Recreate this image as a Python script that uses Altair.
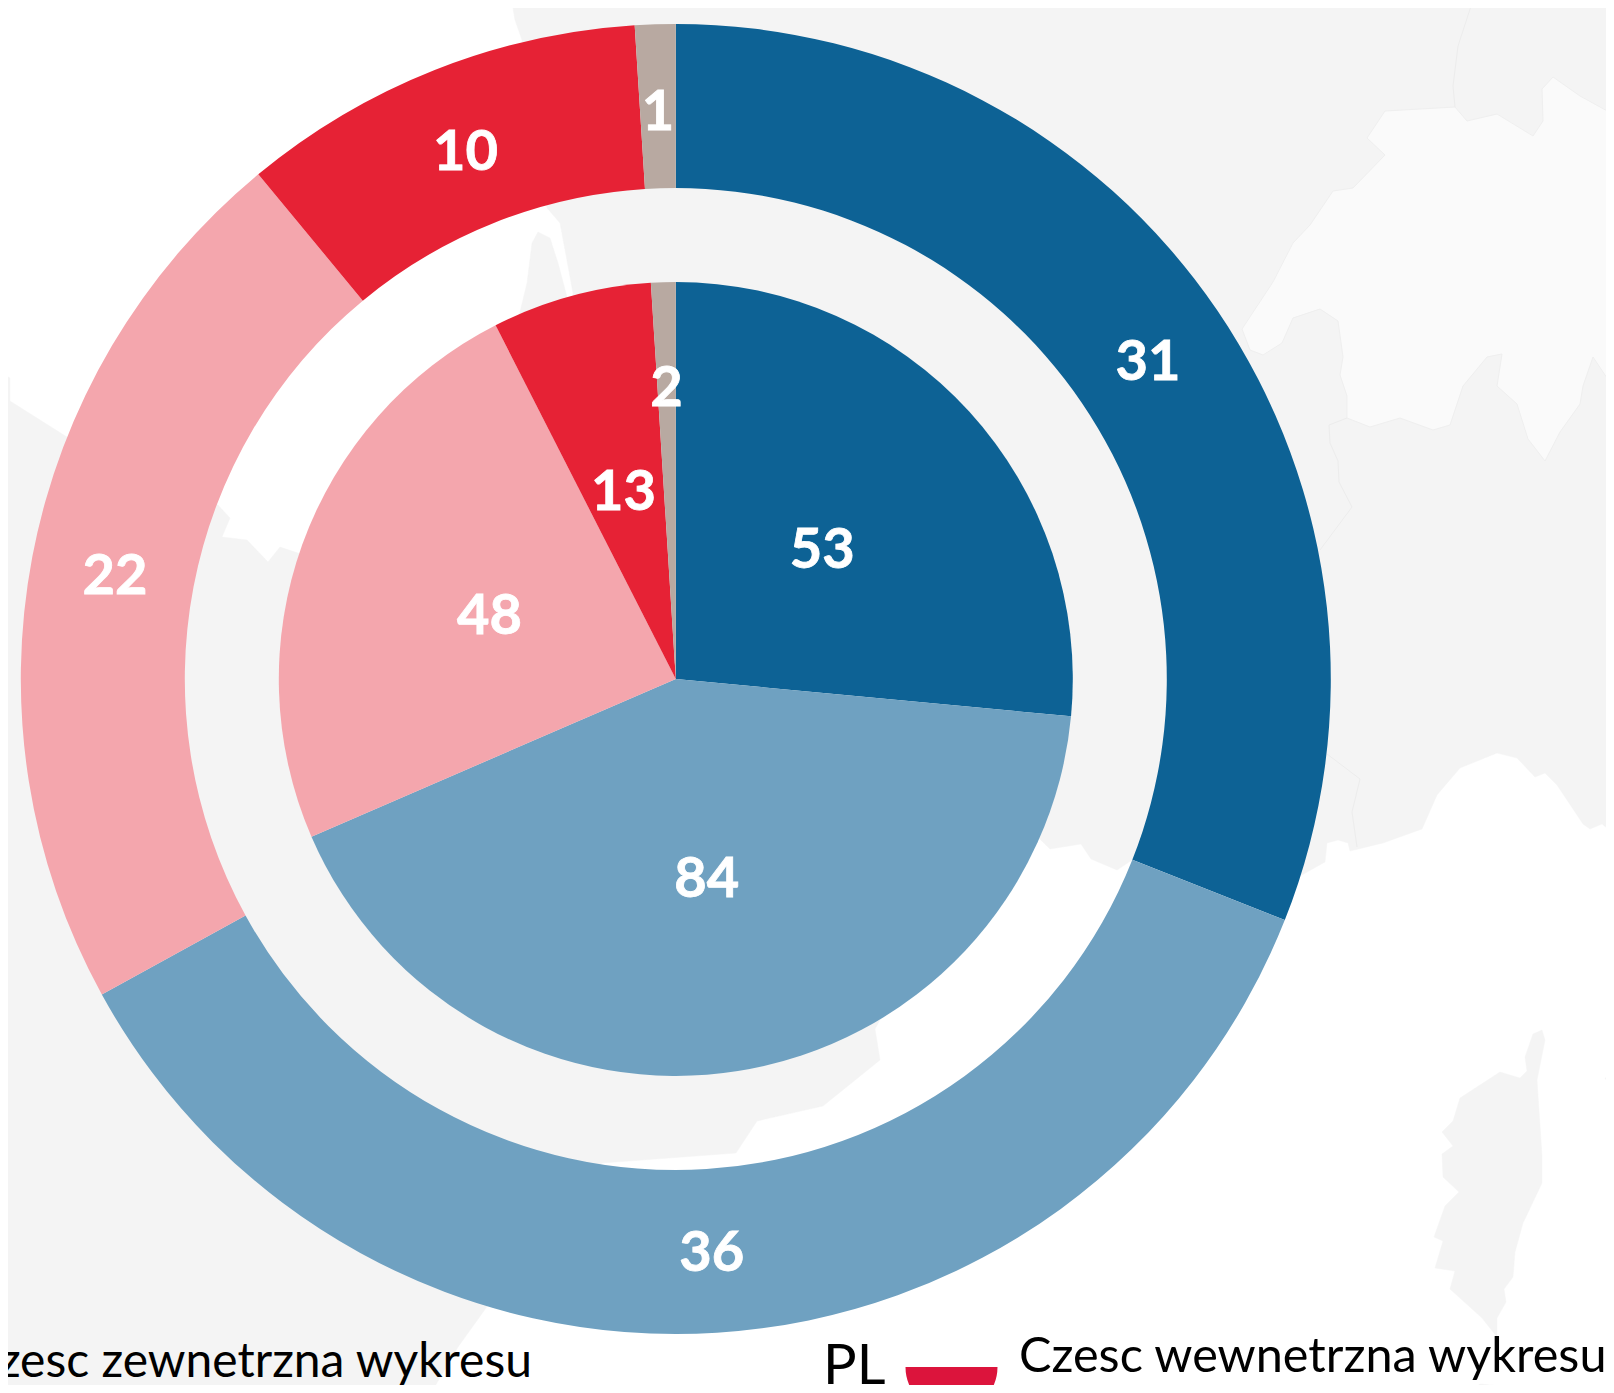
import altair as alt
import pandas as pd

# values of the two rings
categories = ["Grupa A", "Grupa B", "Grupa C", "Grupa D", "Grupa E"]
outer_values = [31, 36, 22, 10, 1]
inner_values = [53, 84, 48, 13, 2]
palette = ["#0d6295", "#6fa1c1", "#f4a6ad", "#e62235", "#b8a9a1"]

# background map outlines (page pixels)
land_main = [(510,-10),(515,20),(522,40),(547,208),(560,223),(573,293),(572,340),(564,340),(567,297),(558,263),(550,238),(538,232),(532,243),(527,283),(520,312),(510,350),(320,560),(298,553),(280,547),(268,562),(247,540),(222,537),(230,518),(218,505),(67,437),(10,401),(10,378),(0,372),(-10,372),(-10,1400),(427,1400),(458,1347),(486,1308),(602,1163),(736,1153),(757,1121),(823,1106),(854,1081),(880,1060),(875,1029),(1000,800),(1050,849),(1081,844),(1091,859),(1117,870),(1132,860),(1300,876),(1325,862),(1327,843),(1338,840),(1348,843),(1350,851),(1383,843),(1422,829),(1437,795),(1460,768),(1497,753),(1517,758),(1535,777),(1545,773),(1557,785),(1583,824),(1590,829),(1602,824),(1613,833),(1620,833),(1620,-10)]
corsica = [(1542,1030),(1545,1040),(1537,1080),(1542,1156),(1542,1183),(1523,1223),(1515,1252),(1513,1277),(1504,1289),(1506,1302),(1497,1318),(1497,1337),(1482,1318),(1450,1289),(1455,1271),(1435,1268),(1443,1241),(1434,1237),(1445,1206),(1459,1192),(1443,1177),(1442,1154),(1453,1146),(1442,1132),(1453,1121),(1460,1098),(1500,1072),(1520,1078),(1527,1071),(1525,1057),(1533,1034)]
islet = [(1605,1078),(1613,1092),(1620,1095),(1620,1076)]
sardinia = [(1462,1400),(1480,1384),(1500,1386),(1516,1400)]
swiss = [(1385,111),(1455,107),(1467,121),(1497,114),(1533,136),(1543,121),(1542,89),(1553,77),(1580,96),(1620,118),(1620,387),(1613,387),(1593,357),(1583,386),(1580,404),(1560,432),(1545,461),(1528,439),(1517,404),(1497,386),(1502,354),(1487,357),(1463,386),(1450,425),(1433,430),(1400,418),(1370,427),(1347,418),(1347,396),(1340,375),(1343,357),(1338,321),(1320,309),(1293,318),(1282,343),(1263,355),(1250,350),(1242,329),(1273,282),(1293,243),(1310,225),(1333,191),(1353,188),(1385,155),(1367,138)]
border_lines = [
    [(1455,107),(1453,86),(1458,46),(1473,0)],
    [(1347,418),(1329,425),(1330,443),(1338,461),(1339,482),(1352,507),(1320,550)],
    [(1327,754),(1360,779),(1352,812),(1357,847)],
]

PAGE = 8
W, H = 1598, 1377
CX, CY = 675.8 - PAGE, 679 - PAGE


def polygon(points):
    ring = [[x, y] for x, y in points]
    ring.append(ring[0])
    return {"type": "Feature", "properties": {}, "geometry": {"type": "Polygon", "coordinates": [ring]}}


def polyline(points):
    return {"type": "Feature", "properties": {}, "geometry": {"type": "LineString", "coordinates": [list(p) for p in points]}}


projection = dict(type="identity", scale=1, translate=[-PAGE, -PAGE])

land = alt.Chart(alt.Data(values=[polygon(land_main), polygon(corsica), polygon(islet), polygon(sardinia)])).mark_geoshape(
    fill="#f4f4f4", stroke="#f4f4f4", strokeWidth=0.5).project(**projection)
swiss_layer = alt.Chart(alt.Data(values=[polygon(swiss)])).mark_geoshape(
    fill="#fafafa", stroke="#efefef", strokeWidth=1).project(**projection)
border_layer = alt.Chart(alt.Data(values=[polyline(l) for l in border_lines])).mark_geoshape(
    filled=False, stroke="#ececec", strokeWidth=1).project(**projection)

frame = pd.DataFrame({
    "kategoria": categories,
    "idx": list(range(len(categories))),
    "outer": outer_values,
    "inner": inner_values,
})
colour = alt.Color("kategoria:N", scale=alt.Scale(domain=categories, range=palette), legend=None)
pos = {"x": alt.value(CX), "y": alt.value(CY)}
order = alt.Order("idx:O")


def theta(field, total):
    return alt.Theta(f"{field}:Q", stack=True, scale=alt.Scale(domain=[0, total], range=[0, 6.283185307179586]))


FONT = "Lato"
NUM = dict(color="white", font=FONT, fontWeight="bold", fontSize=56, align="center", baseline="middle",
           dy=5, stroke="white", strokeWidth=0.8)

outer_arc = alt.Chart(frame).mark_arc(outerRadius=655, innerRadius=491).encode(
    theta=theta("outer", 100), color=colour, order=order, **pos)
outer_text = alt.Chart(frame).mark_text(radius=571, **NUM).encode(
    theta=theta("outer", 100), text="outer:Q", order=order, **pos)
inner_arc = alt.Chart(frame).mark_arc(outerRadius=397, innerRadius=0).encode(
    theta=theta("inner", 200), color=colour, order=order, **pos)
inner_text = alt.Chart(frame).mark_text(radius=198, **NUM).encode(
    theta=theta("inner", 200), text=alt.condition("datum.inner == 2", alt.value(""), "inner:Q"), order=order, **pos)
small_text = alt.Chart(frame).mark_text(radius=295, **NUM).encode(
    theta=theta("inner", 200), text=alt.condition("datum.inner == 2", "inner:Q", alt.value("")), order=order, **pos)

# bottom captions and flag
caption_left = alt.Chart(alt.Data(values=[{"t": "Czesc zewnetrzna wykresu"}])).mark_text(
    font=FONT, fontSize=48, color="black", align="right", baseline="alphabetic").encode(
    text="t:N", x=alt.value(532 - PAGE), y=alt.value(1377 - PAGE))
caption_right = alt.Chart(alt.Data(values=[{"t": "Czesc wewnetrzna wykresu"}])).mark_text(
    font=FONT, fontSize=48.6, color="black", align="left", baseline="alphabetic").encode(
    text="t:N", x=alt.value(1019 - PAGE), y=alt.value(1372 - PAGE))
caption_pl = alt.Chart(alt.Data(values=[{"t": "PL"}])).mark_text(
    font=FONT, fontSize=56, color="black", align="left", baseline="alphabetic").encode(
    text="t:N", x=alt.value(823 - PAGE), y=alt.value(1384 - PAGE))

flag_pos = {"x": alt.value(951.5 - PAGE), "y": alt.value(1367 - PAGE)}
flag_white = alt.Chart(alt.Data(values=[{"f": 1}])).mark_arc(
    theta=4.7124, theta2=7.854, outerRadius=46, innerRadius=0, color="white").encode(**flag_pos)
flag_red = alt.Chart(alt.Data(values=[{"f": 1}])).mark_arc(
    theta=1.5708, theta2=4.7124, outerRadius=46, innerRadius=0, color="#dc143c").encode(**flag_pos)

chart = alt.layer(
    land, swiss_layer, border_layer,
    outer_arc, outer_text, inner_arc, inner_text, small_text,
    caption_left, caption_right, caption_pl, flag_white, flag_red,
).resolve_scale(theta="independent").properties(
    width=W, height=H, autosize=alt.AutoSizeParams(type="none"), padding=0, background="white",
).configure_view(stroke=None)

chart.save("out.html", embed_options={"renderer": "svg", "actions": False})
